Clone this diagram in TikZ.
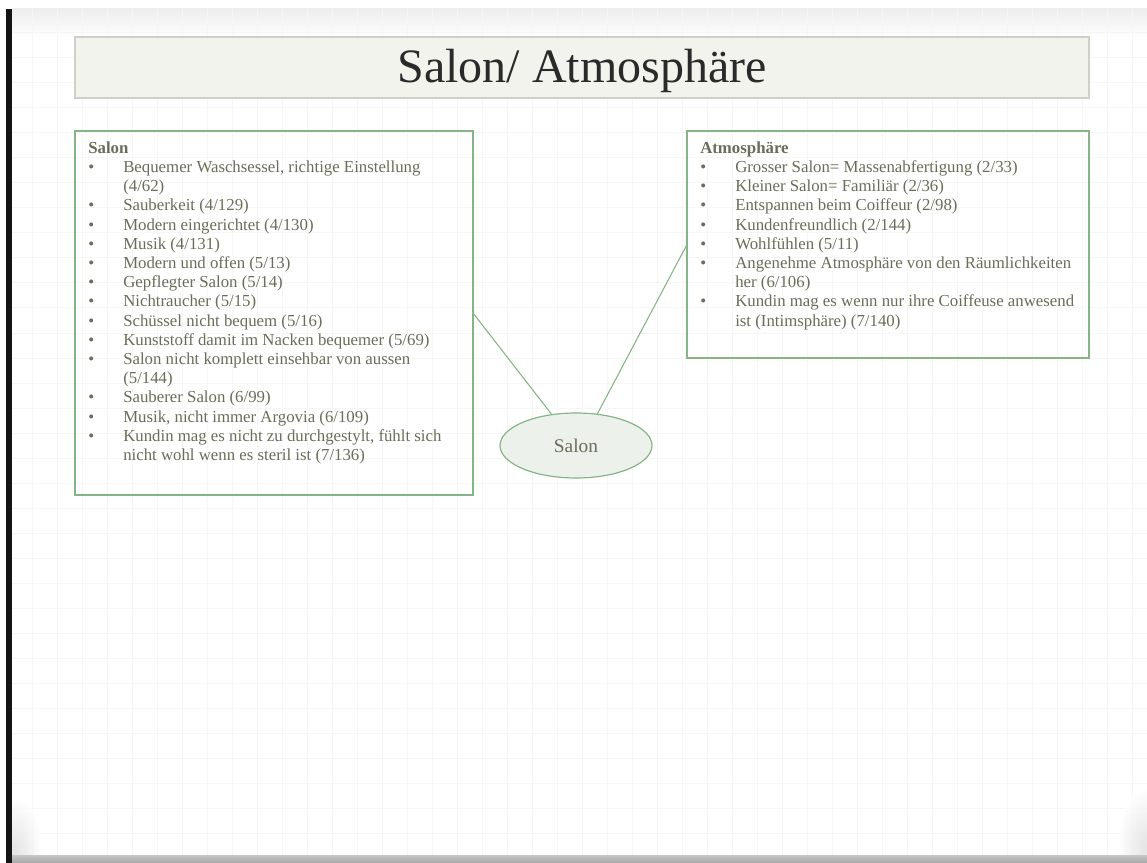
\documentclass[tikz,border=0pt]{standalone}
\usepackage{fontspec}
\setmainfont{Liberation Serif}
\usetikzlibrary{shapes.geometric}
\definecolor{txtgray}{HTML}{6C6C5A}
\definecolor{titletxt}{HTML}{2A2A2A}
\definecolor{boxgreen}{HTML}{86B486}
\definecolor{ellfill}{HTML}{ECF2EB}
\definecolor{titlefill}{HTML}{F3F3EE}
\definecolor{titleline}{HTML}{D0D0C6}
\definecolor{gridc}{HTML}{F6F6F6}
\newcommand\mybul{\makebox[26.25pt][l]{•}}
\newcommand\myind{\hspace*{26.25pt}}
\tikzset{
  gridline/.style={draw=gridc, line width=0.75pt},
  titlebox/.style={draw=titleline, fill=titlefill, line width=1.2pt, inner sep=0pt, outer sep=0pt,
    minimum width=760.5pt, minimum height=45.75pt, anchor=north west},
  greenbox/.style={draw=boxgreen, line width=0.9pt, inner sep=0pt, outer sep=0pt, anchor=north west},
  bodytext/.style={text=txtgray, align=left, inner sep=0pt, anchor=north west,
    font=\fontsize{12.6}{14.4}\selectfont},
  ellnode/.style={ellipse, draw=boxgreen, fill=ellfill, line width=0.9pt, inner sep=0pt,
    minimum width=114pt, minimum height=48.75pt, text=txtgray, font=\fontsize{14.5}{17}\selectfont},
  link/.style={draw=boxgreen, line width=0.8pt}
}
\begin{document}
\begin{tikzpicture}[x=0.75pt,y=-0.75pt]
\useasboundingbox (0,0) rectangle (1147,863);
\fill[white] (0,0) rectangle (1147,863);
% page top shadow
\shade[top color=gray!14, bottom color=white] (12,9) rectangle (1147,38);
% grid
\foreach \x in {32,57,...,1147}{\draw[gridline] (\x,9) -- (\x,855);}
\foreach \y in {33,58,...,855}{\draw[gridline] (12,\y) -- (1147,\y);}
% corner curl shadows
\begin{scope}
  \clip (12,790) rectangle (70,855);
  \shade[inner color=gray!30, outer color=white, opacity=0.7] (14,852) ellipse (28 and 55);
\end{scope}
\begin{scope}
  \clip (1090,780) rectangle (1147,855);
  \shade[inner color=gray!30, outer color=white, opacity=0.7] (1147,848) ellipse (30 and 60);
\end{scope}
% page edges
\shade[top color=gray!45, bottom color=gray!70] (12,855) rectangle (1147,863);
\fill[black!92] (6,9) rectangle (12,863);

% title
\node[titlebox] (title) at (75,37) {};
\node[text=titletxt, font=\fontsize{36}{42}\selectfont, inner sep=0pt] (titletext) at (582,71) {Salon/ Atmosphäre};

% boxes
\node[greenbox, minimum width=298.5pt, minimum height=273pt] (L) at (75,131) {};
\node[greenbox, minimum width=301.5pt, minimum height=170.25pt] (R) at (687,131) {};

\node[bodytext] (Ltxt) at (88,139.6) {\strut\textbf{Salon}\\
\mybul Bequemer Waschsessel, richtige Einstellung\\
\myind (4/62)\\
\mybul Sauberkeit (4/129)\\
\mybul Modern eingerichtet (4/130)\\
\mybul Musik (4/131)\\
\mybul Modern und offen (5/13)\\
\mybul Gepflegter Salon (5/14)\\
\mybul Nichtraucher (5/15)\\
\mybul Schüssel nicht bequem (5/16)\\
\mybul Kunststoff damit im Nacken bequemer (5/69)\\
\mybul Salon nicht komplett einsehbar von aussen\\
\myind (5/144)\\
\mybul Sauberer Salon (6/99)\\
\mybul Musik, nicht immer Argovia (6/109)\\
\mybul Kundin mag es nicht zu durchgestylt, fühlt sich\\
\myind nicht wohl wenn es steril ist (7/136)};

\node[bodytext] (Rtxt) at (700,139.6) {\strut\textbf{Atmosphäre}\\
\mybul Grosser Salon= Massenabfertigung (2/33)\\
\mybul Kleiner Salon= Familiär (2/36)\\
\mybul Entspannen beim Coiffeur (2/98)\\
\mybul Kundenfreundlich (2/144)\\
\mybul Wohlfühlen (5/11)\\
\mybul Angenehme Atmosphäre von den Räumlichkeiten\\
\myind her (6/106)\\
\mybul Kundin mag es wenn nur ihre Coiffeuse anwesend\\
\myind ist (Intimsphäre) (7/140)};

% ellipse
\node[ellnode] (E) at (576,445.5) {Salon};

% connectors
\draw[link] (L.east) -- (E.128);
\draw[link] (R.west) -- (E.56);
\end{tikzpicture}
\end{document}
